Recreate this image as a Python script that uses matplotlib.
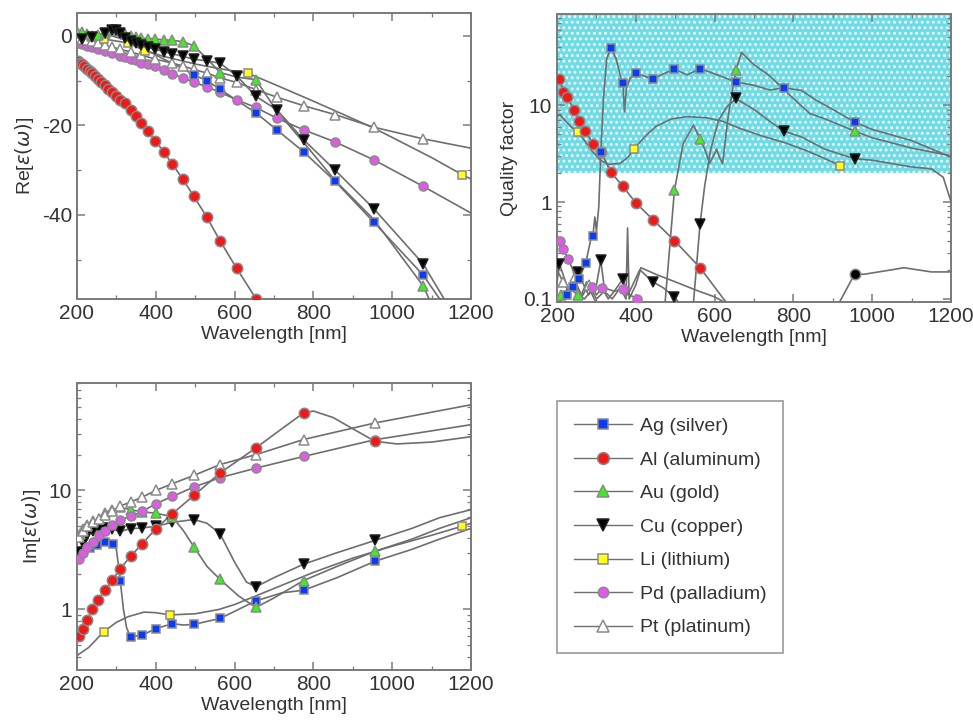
import matplotlib
matplotlib.use("Agg")
import matplotlib.pyplot as plt
from matplotlib.lines import Line2D
from matplotlib.ticker import MultipleLocator, LogLocator, NullFormatter, FixedLocator, FixedFormatter
import numpy as np

plt.rcParams['font.family'] = ['Liberation Sans', 'DejaVu Sans']
plt.rcParams['axes.unicode_minus'] = False
plt.rcParams['hatch.linewidth'] = 1.3

# ---------------- Re[eps] (top left) ----------------
al_re_wl = [200, 203, 208, 214, 219, 225, 232, 238, 246, 253, 261, 270, 279, 288, 299, 310, 321, 336, 349, 363, 381, 399, 420, 442, 468, 496, 529, 563, 605, 654, 700]
al_re = [-5.4, -5.6, -6.0, -6.4, -6.8, -7.3, -7.8, -8.3, -9.0, -9.6, -10.3, -11.0, -11.8, -12.6, -13.5, -14.3, -15.0, -16.5, -17.8, -19.4, -21.3, -23.4, -25.9, -28.7, -31.9, -35.8, -40.4, -45.8, -51.9, -58.7, -66.0]
al_re_mk = [203, 208, 214, 219, 225, 232, 238, 246, 253, 261, 270, 279, 288, 299, 310, 321, 336, 349, 363, 381, 399, 420, 442, 468, 496, 529, 563, 605, 654]

ag_re_wl = [200, 225, 253, 279, 299, 321, 349, 381, 399, 420, 442, 468, 496, 529, 563, 605, 654, 707, 775, 855, 953, 1078, 1130]
ag_re = [0.2, 0.0, 0.4, 0.3, -0.3, -0.8, -2.0, -3.4, -4.2, -5.2, -6.1, -7.3, -8.7, -10.0, -11.9, -14.4, -17.2, -21.0, -25.9, -32.5, -41.6, -53.4, -60.0]
ag_re_mk = [496, 529, 563, 654, 707, 775, 855, 953, 1078]

au_re_wl = [200, 203, 214, 225, 238, 253, 270, 279, 288, 299, 310, 321, 336, 349, 363, 381, 399, 420, 442, 468, 496, 529, 563, 605, 654, 707, 775, 855, 953, 1078, 1100]
au_re = [0.6, 0.6, 0.8, 0.3, 0.0, 0.1, 0.6, 1.0, 1.3, 1.4, 1.1, 0.5, 0.0, -0.3, -0.5, -0.6, -0.7, -0.9, -1.0, -1.3, -2.2, -5.0, -8.2, -9.2, -9.8, -16.8, -23.8, -32.3, -41.0, -55.8, -60.0]
au_re_mk = [203, 214, 225, 238, 253, 270, 279, 288, 299, 310, 321, 336, 349, 363, 381, 399, 420, 442, 468, 496, 563, 654, 1078]

cu_re_wl = [200, 203, 214, 225, 238, 253, 270, 288, 299, 310, 321, 336, 349, 363, 381, 399, 420, 442, 468, 496, 529, 563, 605, 654, 707, 775, 855, 953, 1078, 1140]
cu_re = [0.0, -0.2, -0.6, -0.6, -0.3, 0.2, 0.6, 1.2, 1.3, 0.6, -0.4, -1.1, -1.6, -2.1, -2.6, -3.0, -3.5, -4.0, -4.6, -5.2, -5.6, -6.1, -8.9, -13.5, -16.5, -23.2, -30.0, -38.6, -50.9, -60.0]
cu_re_mk = [214, 238, 270, 288, 299, 310, 321, 336, 349, 363, 381, 399, 420, 442, 468, 496, 529, 563, 605, 654, 707, 775, 855, 953, 1078]

li_re_wl = [200, 268, 330, 372, 420, 500, 560, 635, 700, 800, 900, 953, 1000, 1100, 1177, 1200]
li_re = [0.0, -0.7, -1.6, -3.3, -4.6, -6.3, -7.3, -8.4, -10.8, -14.6, -18.5, -20.6, -22.7, -27.2, -31.0, -32.0]
li_re_mk = [268, 330, 372, 635, 1177]

pd_re_wl = [200, 203, 214, 225, 238, 253, 270, 288, 310, 321, 336, 349, 363, 381, 399, 420, 442, 468, 496, 529, 563, 605, 654, 707, 775, 855, 953, 1078, 1200]
pd_re = [-1.5, -1.6, -1.9, -2.2, -2.5, -2.9, -3.3, -3.8, -4.4, -4.7, -5.1, -5.5, -6.0, -6.4, -6.8, -7.6, -8.5, -9.4, -10.3, -11.4, -12.6, -14.3, -16.0, -18.4, -21.0, -23.7, -27.7, -33.6, -39.6]
pd_re_mk = [203, 214, 225, 238, 253, 270, 288, 310, 321, 336, 349, 363, 381, 399, 420, 442, 468, 496, 529, 563, 605, 654, 707, 775, 855, 953, 1078]

pt_re_wl = [200, 203, 214, 225, 238, 253, 270, 288, 310, 336, 363, 399, 442, 468, 496, 529, 563, 605, 654, 707, 775, 855, 953, 1078, 1200]
pt_re = [-0.2, -0.3, -0.6, -0.9, -1.2, -1.6, -2.0, -2.5, -3.0, -3.6, -4.3, -5.2, -6.1, -6.7, -7.5, -8.3, -9.4, -10.4, -12.0, -13.7, -15.6, -17.6, -20.4, -23.0, -25.1]
pt_re_mk = [203, 214, 225, 238, 253, 270, 288, 310, 336, 363, 399, 442, 468, 496, 529, 563, 605, 654, 707, 775, 855, 953, 1078]

# ---------------- Quality factor (top right) ----------------
ag_q_wl = [200, 207, 225, 241, 256, 273, 285, 291, 296, 300, 306, 311, 318, 326, 337, 350, 362, 367, 371, 376, 386, 400, 420, 443, 470, 498, 530, 563, 600, 654, 700, 740, 775, 820, 858, 900, 955, 1000, 1100, 1200]
ag_q = [0.09, 0.095, 0.11, 0.133, 0.161, 0.236, 0.40, 0.45, 0.7, 0.5, 0.9, 3.3, 12, 30, 39, 30, 19, 17, 8.5, 15, 19, 21.2, 20, 18.5, 21, 23.5, 20.5, 23.8, 21, 17.3, 16, 14.3, 15.1, 14.2, 11.2, 9.0, 6.7, 5.6, 4.3, 2.9]
ag_q_mk = [225, 241, 256, 273, 291, 311, 337, 367, 400, 443, 498, 563, 654, 775, 955]

al_q_wl = [206, 216, 226, 242, 256, 272, 291, 311, 337, 367, 400, 443, 498, 563, 631]
al_q = [18.8, 13.7, 12.2, 9.0, 6.8, 5.4, 4.0, 3.3, 2.03, 1.45, 0.98, 0.66, 0.40, 0.21, 0.09]
al_q_mk = [206, 216, 226, 242, 256, 272, 291, 311, 337, 367, 400, 443, 498, 563]
al_q2_wl = [915, 955, 980, 1050, 1080, 1150, 1200]
al_q2 = [0.09, 0.18, 0.18, 0.20, 0.21, 0.19, 0.19]
al_q2_mk = [955]

au_q_wl = [474, 498, 520, 546, 563, 575, 587, 605, 612, 620, 635, 654, 668, 700, 740, 775, 841, 880, 955, 1000, 1100, 1200]
au_q = [0.09, 1.33, 4.0, 6.2, 4.5, 3.5, 2.5, 3.5, 2.9, 2.5, 8.0, 22.9, 35, 26, 20, 14.5, 8.2, 7.2, 5.4, 4.6, 3.6, 3.0]
au_q_mk = [498, 563, 654, 955]
au_q2_wl = [200, 210, 230, 253, 270, 285, 300]
au_q2 = [0.10, 0.11, 0.13, 0.11, 0.10, 0.12, 0.09]
au_q2_mk = [210, 253]

cu_q_wl = [546, 563, 575, 590, 610, 630, 654, 700, 740, 775, 820, 880, 955, 1000, 1100, 1150, 1180, 1200]
cu_q = [0.09, 0.6, 1.5, 3.5, 7.0, 9.5, 11.7, 9.0, 6.8, 5.4, 4.7, 3.5, 2.8, 2.7, 2.3, 2.2, 1.8, 1.0]
cu_q_mk = [563, 654, 775, 955]
cu_q2_wl = [200, 206, 230, 252, 280, 300, 311, 320, 345, 367, 380, 410, 443, 470, 498, 510]
cu_q2 = [0.15, 0.23, 0.12, 0.19, 0.11, 0.14, 0.25, 0.13, 0.12, 0.16, 0.11, 0.2, 0.15, 0.13, 0.105, 0.09]
cu_q2_mk = [206, 252, 311, 367, 443, 498]

li_q_wl = [200, 207, 220, 235, 252, 270, 290, 310, 330, 360, 380, 395, 420, 450, 490, 530, 580, 620, 664, 720, 780, 840, 880, 918]
li_q = [7.5, 8.0, 7.0, 6.0, 5.3, 4.3, 3.3, 2.7, 2.45, 2.5, 2.9, 3.5, 4.6, 6.0, 7.2, 7.6, 7.4, 6.8, 5.75, 4.8, 4.07, 3.3, 2.8, 2.38]
li_q_mk = [252, 395, 918]

pd_q_wl = [200, 207, 215, 228, 240, 250, 262, 275, 289, 300, 314, 330, 345, 367, 385, 403, 410]
pd_q = [0.45, 0.40, 0.33, 0.26, 0.20, 0.14, 0.11, 0.15, 0.133, 0.11, 0.13, 0.10, 0.12, 0.127, 0.11, 0.10, 0.09]
pd_q_mk = [207, 215, 228, 289, 314, 367, 403]

pt_q_wl = [200, 215, 230, 245, 260, 280, 300, 320, 340, 360, 375, 379, 383, 400, 413, 450, 500, 560, 600, 630]
pt_q = [0.2, 0.15, 0.12, 0.17, 0.1, 0.14, 0.1, 0.12, 0.1, 0.13, 0.1, 0.54, 0.1, 0.14, 0.21, 0.18, 0.15, 0.12, 0.105, 0.09]
pt_q_mk = [215, 245, 280]

# ---------------- Im[eps] (bottom left) ----------------
al_im_wl = [200, 204, 215, 226, 239, 253, 270, 290, 310, 336, 366, 400, 442, 497, 563, 654, 720, 775, 800, 850, 900, 956, 1012, 1100, 1200]
al_im = [0.57, 0.60, 0.69, 0.82, 1.0, 1.2, 1.45, 1.76, 2.2, 2.8, 3.57, 4.77, 6.38, 9.1, 14.0, 22.8, 33, 44.8, 46.5, 41, 33, 25.9, 24.6, 25.5, 28.3]
al_im_mk = [204, 215, 226, 239, 253, 270, 290, 310, 336, 366, 400, 442, 497, 563, 654, 775, 956]

pt_im_wl = [200, 204, 215, 225, 241, 255, 270, 290, 310, 336, 366, 400, 442, 497, 563, 654, 775, 956, 1200]
pt_im = [3.7, 4.1, 4.6, 5.0, 5.4, 5.8, 6.2, 6.7, 7.4, 8.0, 8.8, 10.0, 11.4, 13.4, 16.5, 20.0, 26.8, 36.9, 52.5]
pt_im_mk = [204, 215, 225, 241, 255, 270, 290, 310, 336, 366, 400, 442, 497, 563, 654, 775, 956]

pd_im_wl = [200, 204, 215, 225, 241, 255, 270, 290, 310, 336, 366, 400, 442, 497, 563, 654, 775, 956, 1200]
pd_im = [2.6, 2.68, 3.0, 3.35, 3.7, 4.2, 4.6, 5.15, 5.67, 6.05, 6.67, 7.73, 8.9, 10.7, 12.8, 15.4, 19.3, 26.7, 35.7]
pd_im_mk = [204, 215, 225, 241, 255, 270, 290, 310, 336, 366, 400, 442, 497, 563, 654, 775, 956]

au_im_wl = [200, 207, 215, 225, 241, 255, 270, 290, 310, 336, 366, 400, 442, 470, 497, 530, 563, 610, 654, 700, 775, 860, 956, 1050, 1120, 1200]
au_im = [4.0, 4.3, 4.7, 5.1, 5.5, 5.8, 6.5, 6.9, 7.2, 6.9, 6.6, 6.45, 6.0, 4.6, 3.35, 2.3, 1.79, 1.3, 1.04, 1.25, 1.75, 2.3, 3.08, 3.9, 4.8, 5.9]
au_im_mk = [207, 215, 225, 241, 255, 270, 290, 310, 336, 366, 400, 442, 497, 563, 654, 775, 956]

cu_im_wl = [200, 204, 215, 225, 241, 255, 270, 290, 310, 336, 366, 400, 442, 497, 530, 563, 600, 630, 654, 700, 775, 860, 956, 1050, 1120, 1200]
cu_im = [3.0, 3.04, 3.6, 4.2, 4.6, 4.8, 4.8, 4.7, 4.53, 4.77, 4.84, 5.0, 5.4, 5.7, 5.3, 4.33, 2.5, 1.7, 1.55, 1.85, 2.4, 3.0, 3.8, 4.8, 5.9, 6.9]
cu_im_mk = [204, 215, 225, 241, 255, 270, 290, 310, 336, 366, 400, 442, 497, 563, 654, 775, 956]

ag_im_wl = [200, 213, 233, 251, 271, 291, 300, 305, 310, 318, 326, 336, 366, 400, 442, 470, 497, 563, 654, 720, 775, 860, 956, 1050, 1120, 1200]
ag_im = [2.9, 3.02, 3.3, 3.5, 3.7, 3.55, 3.2, 2.4, 1.73, 1.0, 0.7, 0.59, 0.61, 0.69, 0.76, 0.74, 0.75, 0.84, 1.18, 1.38, 1.45, 1.85, 2.54, 3.2, 3.9, 4.8]
ag_im_mk = [213, 233, 251, 271, 291, 310, 336, 366, 400, 442, 497, 563, 654, 775, 956]

li_im_wl = [200, 230, 268, 300, 330, 370, 400, 436, 500, 560, 600, 700, 800, 900, 1000, 1100, 1177, 1200]
li_im = [0.41, 0.48, 0.65, 0.78, 0.87, 0.95, 0.94, 0.90, 0.92, 1.0, 1.1, 1.5, 2.05, 2.7, 3.4, 4.2, 5.0, 5.3]
li_im_mk = [268, 436, 1177]

names = ['Ag (silver)', 'Al (aluminum)', 'Au (gold)', 'Cu (copper)', 'Li (lithium)', 'Pd (palladium)', 'Pt (platinum)']
colors = ['#0a3cf5', '#f21818', '#3cf01e', '#000000', '#ffff1a', '#e05ae8', '#ffffff']
markers = ['s', 'o', '^', 'v', 's', 'o', '^']
msizes = [6, 7.5, 7, 7, 6, 6.5, 7.5]

LINE = '#6e6e6e'
EDGE = '#8a8a8a'
TXT = '#333333'


def draw(ax, wl, val, mk, i, mcolor=None):
    wl = np.array(wl)
    val = np.array(val)
    ax.plot(wl, val, '-', color=LINE, lw=1.2, zorder=3)
    sel = np.isin(wl, mk)
    ec = '#222222' if i == 3 else EDGE
    ax.plot(wl[sel], val[sel], ls='none', marker=markers[i], ms=msizes[i],
            mfc=mcolor or colors[i], mec=ec, mew=1.1, zorder=4)


def style(ax):
    for s in ax.spines.values():
        s.set_color('#7a7a7a')
        s.set_linewidth(1.4)
    ax.tick_params(which='both', direction='in', top=True, right=True, colors='#7a7a7a',
                   labelcolor=TXT, labelsize=15)
    ax.tick_params(which='major', length=6, width=1.1)
    ax.tick_params(which='minor', length=3, width=0.9)
    ax.set_xlim(200, 1200)
    ax.xaxis.set_major_locator(MultipleLocator(200))
    ax.xaxis.set_minor_locator(MultipleLocator(100))
    ax.set_xlabel('Wavelength [nm]', fontsize=14, color=TXT, labelpad=2)


fig = plt.figure(figsize=(9.73, 7.27), dpi=100)
ax1 = fig.add_axes([0.0791, 0.5887, 0.405, 0.3934])
ax2 = fig.add_axes([0.5725, 0.5846, 0.405, 0.3961])
ax3 = fig.add_axes([0.0791, 0.0784, 0.405, 0.3948])

# top left
draw(ax1, al_re_wl, al_re, al_re_mk, 1)
draw(ax1, pd_re_wl, pd_re, pd_re_mk, 5)
draw(ax1, pt_re_wl, pt_re, pt_re_mk, 6)
draw(ax1, li_re_wl, li_re, li_re_mk, 4)
draw(ax1, ag_re_wl, ag_re, ag_re_mk, 0)
draw(ax1, au_re_wl, au_re, au_re_mk, 2)
draw(ax1, cu_re_wl, cu_re, cu_re_mk, 3)
style(ax1)
ax1.set_ylim(-58.8, 5.1)
ax1.yaxis.set_major_locator(MultipleLocator(20))
ax1.yaxis.set_minor_locator(MultipleLocator(10))
ax1.set_ylabel(r'Re[$\varepsilon(\omega)$]', fontsize=14, color=TXT, labelpad=4)

# top right
ax2.set_yscale('log')
ax2.axhspan(2, 100, facecolor='#6fdbe6', edgecolor='#eefbf8', hatch='...', lw=0, zorder=1)
draw(ax2, pt_q_wl, pt_q, pt_q_mk, 6)
draw(ax2, pd_q_wl, pd_q, pd_q_mk, 5)
draw(ax2, au_q2_wl, au_q2, au_q2_mk, 2)
draw(ax2, cu_q2_wl, cu_q2, cu_q2_mk, 3)
draw(ax2, li_q_wl, li_q, li_q_mk, 4)
draw(ax2, al_q_wl, al_q, al_q_mk, 1)
draw(ax2, al_q2_wl, al_q2, al_q2_mk, 1, mcolor='#000000')
draw(ax2, cu_q_wl, cu_q, cu_q_mk, 3)
draw(ax2, au_q_wl, au_q, au_q_mk, 2)
draw(ax2, ag_q_wl, ag_q, ag_q_mk, 0)
style(ax2)
ax2.set_ylim(0.093, 87)
ax2.yaxis.set_major_locator(FixedLocator([0.1, 1, 10]))
ax2.yaxis.set_major_formatter(FixedFormatter(['0.1', '1', '10']))
ax2.yaxis.set_minor_locator(LogLocator(base=10, subs=np.arange(2, 10)))
ax2.yaxis.set_minor_formatter(NullFormatter())
ax2.set_ylabel('Quality factor', fontsize=14, color=TXT, labelpad=4)

# bottom left
ax3.set_yscale('log')
draw(ax3, li_im_wl, li_im, li_im_mk, 4)
draw(ax3, ag_im_wl, ag_im, ag_im_mk, 0)
draw(ax3, cu_im_wl, cu_im, cu_im_mk, 3)
draw(ax3, au_im_wl, au_im, au_im_mk, 2)
draw(ax3, pd_im_wl, pd_im, pd_im_mk, 5)
draw(ax3, pt_im_wl, pt_im, pt_im_mk, 6)
draw(ax3, al_im_wl, al_im, al_im_mk, 1)
style(ax3)
ax3.set_ylim(0.31, 80)
ax3.yaxis.set_major_locator(FixedLocator([1, 10]))
ax3.yaxis.set_major_formatter(FixedFormatter(['1', '10']))
ax3.yaxis.set_minor_locator(LogLocator(base=10, subs=np.arange(2, 10)))
ax3.yaxis.set_minor_formatter(NullFormatter())
ax3.set_ylabel(r'Im[$\varepsilon(\omega)$]', fontsize=14, color=TXT, labelpad=4)

handles = []
for i in range(len(names)):
    ec = '#222222' if i == 3 else EDGE
    handles.append(Line2D([], [], color=LINE, lw=1.0, marker=markers[i], ms=msizes[i] + 1,
                          mfc=colors[i], mec=ec, mew=1.1))
leg = fig.legend(handles, names, loc='upper left', bbox_to_anchor=(0.5725, 0.4484),
                 fontsize=14, frameon=True, fancybox=False, edgecolor='#8a8a8a',
                 handlelength=3.0, handletextpad=0.4, labelspacing=0.82, borderpad=0.85,
                 borderaxespad=0)
leg.get_frame().set_linewidth(1.3)
for t in leg.get_texts():
    t.set_color(TXT)

fig.savefig('out.png', dpi=100)
